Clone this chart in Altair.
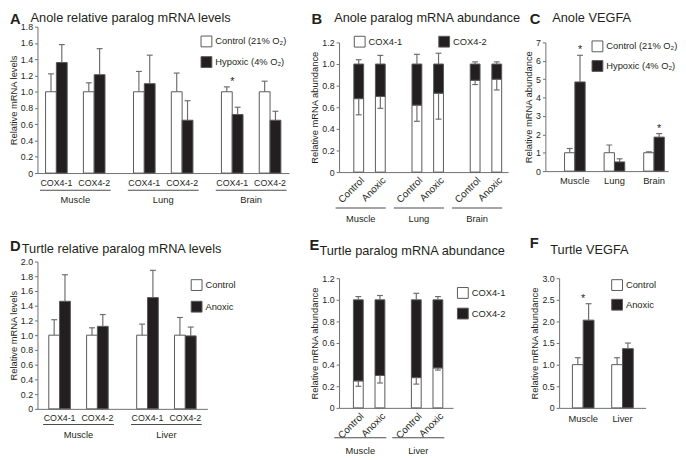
import altair as alt
import pandas as pd

FONT = "Liberation Sans"
TXT = "#231f20"
AXC = "#6d6e71"
EDGE = "#58595b"
BLK = "#231f20"
ERRC = "#6d6e71"
LINE = "#4d4d4d"

# ---------------- A: Anole relative paralog mRNA levels ----------------
A_TISSUES = ["Muscle", "Lung", "Brain"]
A_PARALOGS = ["COX4-1", "COX4-2"]
A_CONDS = ["Control (21% O₂)", "Hypoxic (4% O₂)"]
# order: Muscle COX4-1, Muscle COX4-2, Lung COX4-1, Lung COX4-2, Brain COX4-1, Brain COX4-2
A_CONTROL = [1.00, 1.00, 1.00, 1.00, 1.00, 1.00]
A_CONTROL_ERR = [1.22, 1.11, 1.25, 1.23, 1.06, 1.13]
A_HYPOXIC = [1.36, 1.21, 1.10, 0.65, 0.72, 0.65]
A_HYPOXIC_ERR = [1.58, 1.53, 1.45, 0.89, 0.81, 0.76]
A_STARS = [("Brain", "COX4-1")]
A_TICKS = [0, 0.2, 0.4, 0.6, 0.8, 1.0, 1.2, 1.4, 1.6, 1.8]

# ---------------- B: Anole paralog mRNA abundance ----------------
B_TISSUES = ["Muscle", "Lung", "Brain"]
B_CONDS = ["Control", "Anoxic"]
B_PARALOGS = ["COX4-1", "COX4-2"]
# order: Muscle Control, Muscle Anoxic, Lung Control, Lung Anoxic, Brain Control, Brain Anoxic
B_COX41 = [0.68, 0.70, 0.62, 0.73, 0.85, 0.86]
B_COX41_LO = [0.53, 0.59, 0.47, 0.49, 0.81, 0.76]
B_TOTAL = [1.00, 1.00, 1.00, 1.00, 1.00, 1.00]
B_TOTAL_HI = [1.04, 1.08, 1.09, 1.10, 1.02, 1.02]
B_TICKS = [0, 0.2, 0.4, 0.6, 0.8, 1.0, 1.2]

# ---------------- C: Anole VEGFA ----------------
C_TISSUES = ["Muscle", "Lung", "Brain"]
C_CONDS = ["Control (21% O₂)", "Hypoxic (4% O₂)"]
C_CONTROL = [1.00, 1.00, 1.00]
C_CONTROL_ERR = [1.23, 1.42, 1.05]
C_HYPOXIC = [4.85, 0.50, 1.85]
C_HYPOXIC_ERR = [6.30, 0.67, 2.04]
C_STARS = ["Muscle", "Brain"]
C_TICKS = [0, 1, 2, 3, 4, 5, 6, 7]

# ---------------- D: Turtle relative paralog mRNA levels ----------------
D_TISSUES = ["Muscle", "Liver"]
D_PARALOGS = ["COX4-1", "COX4-2"]
D_CONDS = ["Control", "Anoxic"]
D_CONTROL = [1.00, 1.00, 1.00, 1.00]
D_CONTROL_ERR = [1.21, 1.10, 1.15, 1.24]
D_ANOXIC = [1.46, 1.12, 1.51, 0.99]
D_ANOXIC_ERR = [1.82, 1.28, 1.88, 1.11]
D_STARS = []
D_TICKS = [0, 0.2, 0.4, 0.6, 0.8, 1.0, 1.2, 1.4, 1.6, 1.8, 2.0]

# ---------------- E: Turtle paralog mRNA abundance ----------------
E_TISSUES = ["Muscle", "Liver"]
E_CONDS = ["Control", "Anoxic"]
E_PARALOGS = ["COX4-1", "COX4-2"]
E_COX41 = [0.25, 0.30, 0.28, 0.37]
E_COX41_LO = [0.20, 0.23, 0.22, 0.35]
E_TOTAL = [1.00, 1.00, 1.00, 1.00]
E_TOTAL_HI = [1.03, 1.04, 1.06, 1.03]
E_TICKS = [0, 0.2, 0.4, 0.6, 0.8, 1.0, 1.2]

# ---------------- F: Turtle VEGFA ----------------
F_TISSUES = ["Muscle", "Liver"]
F_CONDS = ["Control", "Anoxic"]
F_CONTROL = [1.00, 1.00]
F_CONTROL_ERR = [1.16, 1.16]
F_ANOXIC = [2.03, 1.37]
F_ANOXIC_ERR = [2.41, 1.50]
F_STARS = ["Muscle"]
F_TICKS = [0, 0.5, 1.0, 1.5, 2.0, 2.5, 3.0]


def y_axis(values, title, decimals=True, offset=0):
    expr = ("datum.value == 0 ? '0' : format(datum.value, '.1f')" if decimals
            else "format(datum.value, 'd')")
    return alt.Axis(values=values, title=title, labelExpr=expr, grid=False, offset=offset,
                    domainColor=AXC, domainWidth=1, tickColor=AXC, tickSize=3, tickWidth=1,
                    labelFontSize=9, labelColor=TXT, labelPadding=2, labelFont=FONT,
                    titleFontSize=9.5, titleFontWeight="normal", titleColor=TXT,
                    titlePadding=2, titleFont=FONT)


def x_axis(pad, label_offset=0, offset=0):
    return alt.Axis(title=None, ticks=False, domainColor=AXC, domainWidth=1, labelAngle=0,
                    labelFontSize=9.5, labelColor=TXT, labelPadding=pad, labelOffset=label_offset,
                    labelFont=FONT, offset=offset)


def legend(x, y, row_pad=5, horizontal=False):
    kw = dict(title=None, orient="none", legendX=x, legendY=y, symbolType="square",
              symbolSize=121, symbolStrokeColor=EDGE, symbolStrokeWidth=1,
              labelFontSize=9.5, labelColor=TXT, labelFont=FONT, labelOffset=3,
              rowPadding=row_pad, padding=0)
    if horizontal:
        kw.update(direction="horizontal", columns=2, columnPadding=34)
    return alt.Legend(**kw)


def heading(letter, title, lx, ly, tx, ty):
    df = pd.DataFrame({"letter": [letter], "title": [title]})
    return [
        alt.Chart(df).mark_text(align="left", baseline="alphabetic", fontSize=15,
                                fontWeight="bold", font=FONT, color=TXT)
        .encode(x=alt.value(lx), y=alt.value(ly), text="letter:N"),
        alt.Chart(df).mark_text(align="left", baseline="alphabetic", fontSize=13,
                                font=FONT, color=TXT)
        .encode(x=alt.value(tx), y=alt.value(ty), text="title:N"),
    ]


def band_scale(tissues, x0, xlen, step, c0, pi=0.5):
    """Band scale with the given step; returns scale and the pixel shift that puts the
    first band centre at c0 from the axis."""
    n = len(tissues)
    po = (xlen / step - n + pi) / 2
    shift = c0 - (xlen - (n - 1) * step) / 2
    return alt.Scale(domain=tissues, range=[x0, x0 + xlen], paddingInner=pi, paddingOuter=po), shift


def paralog_panel(tissues, paralogs, conds, ctrl, ctrl_err, trt, trt_err, stars, *,
                  width, xlen, h, step, yticks, ytitle, bar_w, leg, head,
                  lab_pad, sub_dy, ul_dy, ul_w):
    # slots inside one tissue band: bar, pair centre, bar, gap x4, bar, pair centre, bar
    p1, p2 = paralogs
    slots = [p1 + "|0", p1, p1 + "|1", " ", "  ", "   ", "    ", p2 + "|0", p2, p2 + "|1"]
    band = len(slots) * bar_w / 2
    n = len(tissues)
    pi = 1 - band / step
    po = (xlen / step - n + pi) / 2
    rows = []
    for i, t in enumerate(tissues):
        for j, p in enumerate(paralogs):
            k = i * len(paralogs) + j
            for c, (v, e) in enumerate(((ctrl[k], ctrl_err[k]), (trt[k], trt_err[k]))):
                rows.append({"tissue": t, "paralog": p, "slot": f"{p}|{c}", "c": c,
                             "cond": conds[c], "value": v, "err": e})
    df = pd.DataFrame(rows)
    xs = alt.Scale(domain=tissues, range=[0, xlen], paddingInner=pi, paddingOuter=po)
    ys = alt.Scale(domain=[yticks[0], yticks[-1]], range=[h, 0], nice=False)
    yax = y_axis(yticks, ytitle)
    X = alt.X("tissue:N", scale=xs, axis=x_axis(lab_pad))
    oscale = alt.Scale(domain=slots, paddingInner=0, paddingOuter=0)
    XS = alt.XOffset("slot:N", scale=oscale)
    XP = alt.XOffset("paralog:N", scale=oscale)
    fill = alt.Fill("cond:N", scale=alt.Scale(domain=conds, range=["#ffffff", BLK]), legend=leg)
    base = alt.Chart(df)
    layers = [
        base.mark_bar(width=bar_w, stroke=EDGE, strokeWidth=1)
        .encode(x=X, xOffset=XS, y=alt.Y("value:Q", scale=ys, axis=yax), fill=fill),
        base.mark_rule(color=ERRC, strokeWidth=1.2)
        .encode(x=X, xOffset=XS, y=alt.Y("value:Q", scale=ys, axis=yax), y2="err:Q"),
        base.mark_tick(orient="horizontal", size=6, thickness=1.2, color=ERRC, opacity=1)
        .encode(x=X, xOffset=XS, y=alt.Y("err:Q", scale=ys, axis=yax)),
    ]
    pair = df[df.c == 0][["tissue", "paralog"]]
    layers.append(alt.Chart(pair).mark_text(fontSize=9, font=FONT, color=TXT, baseline="middle")
                  .encode(x=X, xOffset=XP, y=alt.value(h + sub_dy), text="paralog:N"))
    srows = []
    for (t, p) in stars:
        k = tissues.index(t) * len(paralogs) + paralogs.index(p)
        srows.append({"tissue": t, "paralog": p, "y": max(ctrl_err[k], trt_err[k])})
    if srows:
        layers.append(alt.Chart(pd.DataFrame(srows))
                      .mark_text(text="*", fontSize=11, font=FONT, color=TXT,
                                 baseline="alphabetic", dy=-2)
                      .encode(x=X, xOffset=XP, y=alt.Y("y:Q", scale=ys, axis=yax)))
    tdf = pd.DataFrame({"tissue": tissues})
    layers.append(alt.Chart(tdf).mark_bar(width=ul_w, color=LINE)
                  .encode(x=X, y=alt.value(h + ul_dy), y2=alt.value(h + ul_dy + 1)))
    return alt.layer(*(layers + head)).properties(width=width, height=h)


def vegfa_panel(tissues, conds, ctrl, ctrl_err, trt, trt_err, stars, star_dx, *,
                width, x0, xlen, step, c0, h, ybot, ytop, yticks, decimals, ytitle, bar_w,
                leg, head, lab_pad):
    rows = []
    for i, t in enumerate(tissues):
        for c, (v, e) in enumerate(((ctrl[i], ctrl_err[i]), (trt[i], trt_err[i]))):
            rows.append({"tissue": t, "c": c, "cond": conds[c], "value": v, "err": e})
    df = pd.DataFrame(rows)
    xs, shift = band_scale(tissues, x0, xlen, step, c0)
    ys = alt.Scale(domain=[yticks[0], yticks[-1]], range=[ybot, ytop], nice=False)
    yax = y_axis(yticks, ytitle, decimals, offset=-x0)
    X = alt.X("tissue:N", scale=xs, axis=x_axis(lab_pad, shift, offset=ybot - h))
    fill = alt.Fill("cond:N", scale=alt.Scale(domain=conds, range=["#ffffff", BLK]), legend=leg)
    layers = []
    for c in range(2):
        off = shift + (c - 0.5) * bar_w
        sub = alt.Chart(df).transform_filter(alt.datum.c == c)
        layers.append(sub.mark_bar(width=bar_w, xOffset=off, stroke=EDGE, strokeWidth=1)
                      .encode(x=X, y=alt.Y("value:Q", scale=ys, axis=yax), fill=fill))
        layers.append(sub.mark_rule(xOffset=off, color=ERRC, strokeWidth=1.2)
                      .encode(x=X, y=alt.Y("value:Q", scale=ys, axis=yax), y2="err:Q"))
        layers.append(sub.mark_tick(orient="horizontal", size=6, thickness=1.2, xOffset=off,
                                    color=ERRC, opacity=1)
                      .encode(x=X, y=alt.Y("err:Q", scale=ys, axis=yax)))
    srows = []
    for t in stars:
        i = tissues.index(t)
        srows.append({"tissue": t, "y": max(ctrl_err[i], trt_err[i])})
    if srows:
        layers.append(alt.Chart(pd.DataFrame(srows))
                      .mark_text(text="*", fontSize=11, font=FONT, color=TXT,
                                 baseline="alphabetic", dy=-2, xOffset=shift + star_dx)
                      .encode(x=X, y=alt.Y("y:Q", scale=ys, axis=yax)))
    return alt.layer(*(layers + head)).properties(width=width, height=h)


def stacked_panel(tissues, conds, paralogs, cox41, cox41_lo, total, total_hi, *,
                  width, xlen, step, c0, sub_step, h, ybot, ytop, yticks, ytitle, bar_w, leg,
                  head, lab_pad, cond_dy, ul_dy, ul_w, ul_dx):
    seg, err = [], []
    for i, t in enumerate(tissues):
        for j, c in enumerate(conds):
            k = i * len(conds) + j
            seg.append({"tissue": t, "cond": c, "paralog": paralogs[0], "lo": 0.0, "hi": cox41[k]})
            seg.append({"tissue": t, "cond": c, "paralog": paralogs[1], "lo": cox41[k], "hi": total[k]})
            err.append({"tissue": t, "cond": c, "v": cox41[k], "e": cox41_lo[k]})
            err.append({"tissue": t, "cond": c, "v": total[k], "e": total_hi[k]})
    seg = pd.DataFrame(seg)
    err = pd.DataFrame(err)
    labels = pd.DataFrame([{"tissue": t, "cond": c} for t in tissues for c in conds])
    xs, shift = band_scale(tissues, 0, xlen, step, c0)
    X = alt.X("tissue:N", scale=xs, axis=x_axis(lab_pad, shift + ul_dx, offset=ybot - h))
    ys = alt.Scale(domain=[yticks[0], yticks[-1]], range=[ybot, ytop], nice=False)
    yax = y_axis(yticks, ytitle)
    fill = alt.Fill("paralog:N", scale=alt.Scale(domain=paralogs, range=["#ffffff", BLK]),
                    legend=leg)
    layers = []
    for j, c in enumerate(conds):
        off = shift + (j - 0.5) * sub_step
        layers += [
            alt.Chart(seg).transform_filter(alt.datum.cond == c)
            .mark_bar(width=bar_w, xOffset=off, stroke=EDGE, strokeWidth=1)
            .encode(x=X, y=alt.Y("hi:Q", scale=ys, axis=yax), y2="lo:Q", fill=fill),
            alt.Chart(err).transform_filter(alt.datum.cond == c)
            .mark_rule(xOffset=off, color=ERRC, strokeWidth=1.2)
            .encode(x=X, y=alt.Y("v:Q", scale=ys, axis=yax), y2="e:Q"),
            alt.Chart(err).transform_filter(alt.datum.cond == c)
            .mark_tick(orient="horizontal", size=6, thickness=1.2, xOffset=off, color=ERRC, opacity=1)
            .encode(x=X, y=alt.Y("e:Q", scale=ys, axis=yax)),
            alt.Chart(labels).transform_filter(alt.datum.cond == c)
            .mark_text(angle=315, align="right", baseline="middle", xOffset=off + 4,
                       fontSize=10, font=FONT, color=TXT)
            .encode(x=X, y=alt.value(ybot + cond_dy), text="cond:N"),
        ]
    layers.append(alt.Chart(pd.DataFrame({"tissue": tissues}))
                  .mark_bar(width=ul_w, xOffset=shift + ul_dx, color=LINE)
                  .encode(x=X, y=alt.value(ybot + ul_dy), y2=alt.value(ybot + ul_dy + 1)))
    return alt.layer(*(layers + head)).properties(width=width, height=h)


A = paralog_panel(A_TISSUES, A_PARALOGS, A_CONDS, A_CONTROL, A_CONTROL_ERR, A_HYPOXIC,
                  A_HYPOXIC_ERR, A_STARS, width=269, xlen=256, h=149, step=89.5,
                  yticks=A_TICKS, ytitle="Relative mRNA levels", bar_w=11,
                  leg=legend(166, 9),
                  head=heading("A", "Anole relative paralog mRNA levels", -28, -3, -7, -5),
                  lab_pad=22, sub_dy=10, ul_dy=17, ul_w=72)

B = stacked_panel(B_TISSUES, B_CONDS, B_PARALOGS, B_COX41, B_COX41_LO, B_TOTAL, B_TOTAL_HI,
                  width=172, xlen=172, step=59.25, c0=31, sub_step=22, h=149, ybot=148, ytop=16,
                  yticks=B_TICKS, ytitle="Relative mRNA abundance", bar_w=10,
                  leg=legend(15, 9, horizontal=True),
                  head=heading("B", "Anole paralog mRNA abundance", -28, -3, -5, -5),
                  lab_pad=42, cond_dy=7, ul_dy=36, ul_w=51, ul_dx=-9)

C = vegfa_panel(C_TISSUES, C_CONDS, C_CONTROL, C_CONTROL_ERR, C_HYPOXIC, C_HYPOXIC_ERR,
                C_STARS, 5.25, width=125, x0=0, xlen=125, step=40.3, c0=30, h=149, ybot=147,
                ytop=16, yticks=C_TICKS, decimals=False, ytitle="Relative mRNA abundance",
                bar_w=10.5, leg=legend(47, 14, row_pad=4),
                head=heading("C", "Anole VEGFA", -16, -3, 7, -5), lab_pad=5)

D = paralog_panel(D_TISSUES, D_PARALOGS, D_CONDS, D_CONTROL, D_CONTROL_ERR, D_ANOXIC,
                  D_ANOXIC_ERR, D_STARS, width=269, xlen=173, h=150, step=89.5,
                  yticks=D_TICKS, ytitle="Relative mRNA levels", bar_w=11,
                  leg=legend(156, 18, row_pad=6),
                  head=heading("D", "Turtle relative paralog mRNA levels", -28, -11, -16, -9),
                  lab_pad=21, sub_dy=9.5, ul_dy=15.5, ul_w=72)

E = stacked_panel(E_TISSUES, E_CONDS, E_PARALOGS, E_COX41, E_COX41_LO, E_TOTAL, E_TOTAL_HI,
                  width=172, xlen=116, step=59, c0=30.6, sub_step=22, h=149, ybot=149, ytop=17,
                  yticks=E_TICKS, ytitle="Relative mRNA abundance", bar_w=10,
                  leg=legend(120, 26),
                  head=heading("E", "Turtle paralog mRNA abundance", -30, -12, -20, -7),
                  lab_pad=38, cond_dy=7, ul_dy=30, ul_w=53, ul_dx=-9)

F = vegfa_panel(F_TISSUES, F_CONDS, F_CONTROL, F_CONTROL_ERR, F_ANOXIC, F_ANOXIC_ERR,
                F_STARS, 0, width=102, x0=14, xlen=88, step=40, c0=24.5, h=149, ybot=149,
                ytop=17, yticks=F_TICKS, decimals=True, ytitle="Relative mRNA abundance",
                bar_w=11, leg=legend(67, 18, row_pad=4),
                head=heading("F", "Turtle VEGFA", -16, -14, 5, -8), lab_pad=6)

chart = (
    alt.concat(A, B, C, D, E, F, columns=3, spacing={"row": 90, "column": 38},
               bounds="flush", align="none")
    .resolve_scale(x="independent", y="independent", fill="independent",
                   xOffset="independent")
    .properties(padding=0)
    .configure_view(stroke=None)
)

chart.save("out.html", embed_options={"renderer": "svg", "actions": False})
